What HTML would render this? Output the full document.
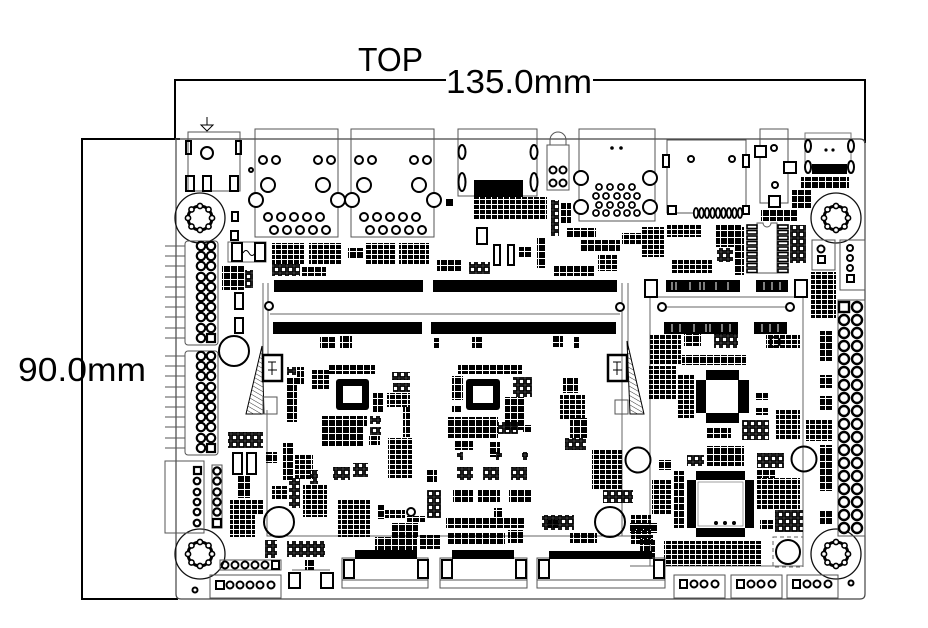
<!DOCTYPE html>
<html><head><meta charset="utf-8"><style>
html,body{margin:0;padding:0;background:#fff;}
svg{display:block;}
text{font-family:"Liberation Sans",sans-serif;fill:#000;}
</style></head><body>
<svg width="928" height="628" viewBox="0 0 928 628" xmlns="http://www.w3.org/2000/svg" xmlns:xlink="http://www.w3.org/1999/xlink">
<defs>
 <pattern id="a" width="7" height="7" patternUnits="userSpaceOnUse"><rect width="6" height="6" fill="#000"/></pattern>
 <pattern id="b" width="6" height="5" patternUnits="userSpaceOnUse"><rect width="5" height="4" fill="#000"/></pattern>
 <pattern id="c" width="7" height="7" patternUnits="userSpaceOnUse"><rect x="1" y="1" width="5" height="5" fill="none" stroke="#000" stroke-width="1.8"/></pattern>
 <pattern id="h" width="4" height="4" patternUnits="userSpaceOnUse" patternTransform="rotate(-60)"><line x1="0" y1="0" x2="0" y2="4" stroke="#000" stroke-width="0.8"/></pattern>
 <g id="mh">
  <circle r="25" fill="none" stroke="#111" stroke-width="1.3"/>
  <circle r="12" fill="none" stroke="#000" stroke-width="3"/>
  <g fill="#fff" stroke="#000" stroke-width="1.6">
   <circle cx="12" cy="0" r="2.6"/><circle cx="8.5" cy="8.5" r="2.6"/><circle cx="0" cy="12" r="2.6"/><circle cx="-8.5" cy="8.5" r="2.6"/>
   <circle cx="-12" cy="0" r="2.6"/><circle cx="-8.5" cy="-8.5" r="2.6"/><circle cx="0" cy="-12" r="2.6"/><circle cx="8.5" cy="-8.5" r="2.6"/>
  </g>
 </g>
 <g id="rj">
  <rect x="255" y="129" width="83" height="108" fill="none" stroke="#555" stroke-width="1"/>
  <g fill="#fff" stroke="#000" stroke-width="2">
   <circle cx="263" cy="160" r="4"/><circle cx="276" cy="160" r="4"/><circle cx="318" cy="160" r="4"/><circle cx="331" cy="160" r="4"/>
   <circle cx="268" cy="185" r="7"/><circle cx="323" cy="185" r="7"/>
   <circle cx="256" cy="200" r="7"/><circle cx="338" cy="200" r="7"/>
   <circle cx="268" cy="217" r="4"/><circle cx="281" cy="217" r="4"/><circle cx="294" cy="217" r="4"/><circle cx="307" cy="217" r="4"/><circle cx="320" cy="217" r="4"/>
   <circle cx="274" cy="230" r="4"/><circle cx="287" cy="230" r="4"/><circle cx="300" cy="230" r="4"/><circle cx="313" cy="230" r="4"/><circle cx="326" cy="230" r="4"/>
  </g>
 </g>
 <g id="p4">
  <rect x="0" y="0" width="51" height="23" fill="none" stroke="#555" stroke-width="1"/>
  <g fill="none" stroke="#000" stroke-width="2">
   <rect x="6" y="5" width="7" height="8"/>
   <circle cx="20" cy="9" r="3.5"/><circle cx="30" cy="9" r="3.5"/><circle cx="41" cy="9" r="3.5"/>
  </g>
 </g>
</defs>

<!-- dimension lines and text -->
<path d="M175 139 V80 H446 M593 80 H865 V143" stroke="#000" stroke-width="2" fill="none"/>
<path d="M180 139 H82 V599 H178" stroke="#000" stroke-width="2" fill="none"/>
<text x="358" y="71" font-size="33" textLength="65" lengthAdjust="spacingAndGlyphs">TOP</text>
<text x="446" y="93" font-size="33" textLength="146" lengthAdjust="spacingAndGlyphs">135.0mm</text>
<text x="18" y="381" font-size="33" textLength="128" lengthAdjust="spacingAndGlyphs">90.0mm</text>

<!-- board outline -->
<path d="M175 139 H860 Q865 139 865 144 V594 Q865 599 860 599 H181 Q176 599 176 594 V139" stroke="#444" stroke-width="1.2" fill="none"/>

<!-- power jack -->
<path d="M207 117 V125 M201 125 H213 L207 131 Z" stroke="#000" stroke-width="1" fill="none"/>
<rect x="188" y="132" width="52" height="59" fill="none" stroke="#555" stroke-width="1"/>
<g fill="none" stroke="#000" stroke-width="2">
 <rect x="186" y="141" width="5" height="13"/><rect x="236" y="141" width="5" height="13"/>
 <circle cx="207" cy="153" r="6"/>
 <rect x="186" y="176" width="8" height="15"/><rect x="203" y="176" width="8" height="15"/><rect x="230" y="176" width="8" height="15"/>
 <circle cx="251" cy="170" r="2"/>
</g>

<!-- RJ45 -->
<use xlink:href="#rj" href="#rj"/>
<use xlink:href="#rj" href="#rj" x="96"/>
<rect x="446" y="199" width="7" height="7" fill="#000"/>

<!-- USB box -->
<rect x="458" y="129" width="79" height="67" fill="none" stroke="#555" stroke-width="1"/>
<g fill="#fff" stroke="#000" stroke-width="2">
 <ellipse cx="462" cy="152" rx="3.5" ry="7"/><ellipse cx="462" cy="182" rx="3.5" ry="9"/>
 <ellipse cx="534" cy="152" rx="3.5" ry="7"/><ellipse cx="534" cy="182" rx="3.5" ry="9"/>
</g>
<rect x="474" y="180" width="49" height="17" fill="#000"/>

<!-- audio jack -->
<path d="M550 145 V140 A8 8 0 0 1 566 140 V145" fill="none" stroke="#555" stroke-width="1"/>
<rect x="547" y="145" width="22" height="45" fill="none" stroke="#555" stroke-width="1"/>
<g fill="none" stroke="#000" stroke-width="2">
 <circle cx="553" cy="170" r="3.5"/><circle cx="563" cy="170" r="3.5"/><circle cx="553" cy="183" r="3.5"/><circle cx="563" cy="183" r="3.5"/>
</g>

<!-- VGA -->
<rect x="579" y="129" width="76" height="92" fill="none" stroke="#555" stroke-width="1"/>
<circle cx="612" cy="148" r="1.8" fill="#000"/><circle cx="621" cy="148" r="1.8" fill="#000"/>
<g fill="#fff" stroke="#000" stroke-width="2">
 <circle cx="581" cy="178" r="7"/><circle cx="650" cy="178" r="7"/><circle cx="581" cy="207" r="7"/><circle cx="650" cy="207" r="7"/>
</g>
<g fill="none" stroke="#000" stroke-width="1.8">
 <circle cx="599" cy="187" r="3"/><circle cx="610" cy="187" r="3"/><circle cx="621" cy="187" r="3"/><circle cx="632" cy="187" r="3"/>
 <circle cx="596" cy="196" r="3"/><circle cx="606" cy="196" r="3"/><circle cx="617" cy="196" r="3"/><circle cx="627" cy="196" r="3"/><circle cx="637" cy="196" r="3"/>
 <circle cx="599" cy="205" r="3"/><circle cx="610" cy="205" r="3"/><circle cx="621" cy="205" r="3"/><circle cx="632" cy="205" r="3"/>
 <circle cx="596" cy="213" r="3"/><circle cx="606" cy="213" r="3"/><circle cx="617" cy="213" r="3"/><circle cx="627" cy="213" r="3"/><circle cx="637" cy="213" r="3"/>
</g>

<!-- HDMI -->
<rect x="667" y="140" width="79" height="73" fill="none" stroke="#555" stroke-width="1"/>
<g fill="#fff" stroke="#000" stroke-width="2">
 <rect x="663" y="155" width="6" height="12"/><rect x="743" y="155" width="6" height="12"/>
 <circle cx="691" cy="159" r="3"/><circle cx="732" cy="159" r="3"/>
 <rect x="668" y="206" width="8" height="8"/><rect x="743" y="206" width="6" height="8"/>
</g>
<g fill="#fff" stroke="#000" stroke-width="1.8">
 <ellipse cx="696" cy="213" rx="2.2" ry="5"/><ellipse cx="701.5" cy="213" rx="2.2" ry="5"/><ellipse cx="707" cy="213" rx="2.2" ry="5"/>
 <ellipse cx="712.5" cy="213" rx="2.2" ry="5"/><ellipse cx="718" cy="213" rx="2.2" ry="5"/><ellipse cx="723.5" cy="213" rx="2.2" ry="5"/>
 <ellipse cx="729" cy="213" rx="2.2" ry="5"/><ellipse cx="734.5" cy="213" rx="2.2" ry="5"/><ellipse cx="740" cy="213" rx="2.2" ry="5"/>
</g>

<!-- connector near HDMI -->
<rect x="760" y="129" width="28" height="74" fill="none" stroke="#555" stroke-width="1"/>
<g fill="#fff" stroke="#000" stroke-width="2">
 <rect x="755" y="146" width="11" height="11"/><circle cx="774" cy="148" r="3"/>
 <rect x="784" y="162" width="12" height="11"/><circle cx="775" cy="185" r="3"/>
 <rect x="769" y="196" width="11" height="11"/>
</g>

<!-- USB-C -->
<rect x="805" y="133" width="46" height="35" fill="none" stroke="#777" stroke-width="1"/>
<g fill="#fff" stroke="#000" stroke-width="2">
 <ellipse cx="808" cy="146" rx="3" ry="6"/><ellipse cx="851" cy="146" rx="3" ry="6"/>
 <ellipse cx="808" cy="167" rx="3" ry="6"/><ellipse cx="851" cy="167" rx="3" ry="6"/>
</g>
<circle cx="826" cy="150" r="1.6" fill="#000"/><circle cx="833" cy="150" r="1.6" fill="#000"/>
<rect x="812" y="164" width="35" height="10" fill="#000"/>

<!-- mounting holes -->
<use xlink:href="#mh" href="#mh" x="200" y="218"/>
<use xlink:href="#mh" href="#mh" x="836" y="218"/>
<use xlink:href="#mh" href="#mh" x="200" y="554"/>
<use xlink:href="#mh" href="#mh" x="836" y="554"/>

<!-- small right connectors -->
<rect x="812" y="240" width="23" height="30" fill="none" stroke="#555"/>
<rect x="840" y="240" width="25" height="50" fill="none" stroke="#555"/>
<g fill="none" stroke="#000" stroke-width="2">
 <circle cx="821" cy="249" r="3.5"/><rect x="818" y="256" width="7" height="7"/>
 <circle cx="850" cy="248" r="3"/><circle cx="850" cy="258" r="3"/><circle cx="850" cy="268" r="3"/><rect x="847" y="275" width="7" height="7"/>
</g>

<!-- left headers -->
<g stroke="#555" stroke-width="1" fill="none">
 <rect x="185" y="241" width="33" height="104" rx="3"/>
 <rect x="185" y="351" width="33" height="104" rx="3"/>
 <path d="M165 246 H185 M165 256 H185 M165 266 H185 M165 277 H185 M165 287 H185 M165 297 H185 M165 307 H185 M165 317 H185 M165 328 H185 M165 338 H185"/>
 <path d="M165 356 H185 M165 366 H185 M165 376 H185 M165 387 H185 M165 397 H185 M165 407 H185 M165 417 H185 M165 427 H185 M165 438 H185 M165 448 H185"/>
 <rect x="165" y="461" width="39" height="72"/>
 <rect x="212" y="465" width="10" height="63"/>
</g>
<g fill="#fff" stroke="#000" stroke-width="2.2">
 <circle cx="201" cy="246" r="4.2"/><circle cx="211" cy="246" r="4.2"/>
 <circle cx="201" cy="256" r="4.2"/><circle cx="211" cy="256" r="4.2"/>
 <circle cx="201" cy="266" r="4.2"/><circle cx="211" cy="266" r="4.2"/>
 <circle cx="201" cy="277" r="4.2"/><circle cx="211" cy="277" r="4.2"/>
 <circle cx="201" cy="287" r="4.2"/><circle cx="211" cy="287" r="4.2"/>
 <circle cx="201" cy="297" r="4.2"/><circle cx="211" cy="297" r="4.2"/>
 <circle cx="201" cy="307" r="4.2"/><circle cx="211" cy="307" r="4.2"/>
 <circle cx="201" cy="317" r="4.2"/><circle cx="211" cy="317" r="4.2"/>
 <circle cx="201" cy="328" r="4.2"/><circle cx="211" cy="328" r="4.2"/>
 <circle cx="201" cy="338" r="4.2"/><rect x="207" y="334" width="8" height="8"/>
 <circle cx="201" cy="356" r="4.2"/><circle cx="211" cy="356" r="4.2"/>
 <circle cx="201" cy="366" r="4.2"/><circle cx="211" cy="366" r="4.2"/>
 <circle cx="201" cy="376" r="4.2"/><circle cx="211" cy="376" r="4.2"/>
 <circle cx="201" cy="387" r="4.2"/><circle cx="211" cy="387" r="4.2"/>
 <circle cx="201" cy="397" r="4.2"/><circle cx="211" cy="397" r="4.2"/>
 <circle cx="201" cy="407" r="4.2"/><circle cx="211" cy="407" r="4.2"/>
 <circle cx="201" cy="417" r="4.2"/><circle cx="211" cy="417" r="4.2"/>
 <circle cx="201" cy="427" r="4.2"/><circle cx="211" cy="427" r="4.2"/>
 <circle cx="201" cy="438" r="4.2"/><circle cx="211" cy="438" r="4.2"/>
 <circle cx="201" cy="448" r="4.2"/><rect x="207" y="444" width="8" height="8"/>
 <rect x="194" y="467" width="7" height="7"/><circle cx="197" cy="481" r="3.3"/><circle cx="197" cy="492" r="3.3"/><circle cx="197" cy="502" r="3.3"/><circle cx="197" cy="512" r="3.3"/><circle cx="197" cy="523" r="3.3"/>
 <circle cx="217" cy="471" r="3.6"/><circle cx="217" cy="481" r="3.6"/><circle cx="217" cy="492" r="3.6"/><circle cx="217" cy="502" r="3.6"/><circle cx="217" cy="512" r="3.6"/><rect x="213" y="519" width="8" height="8"/>
</g>

<!-- right header -->
<rect x="838" y="300" width="27" height="236" fill="none" stroke="#555"/>
<g fill="#fff" stroke="#000" stroke-width="2.4">
 <rect x="839" y="302" width="10" height="10"/><circle cx="857" cy="307" r="5"/>
 <circle cx="844" cy="320" r="5"/><circle cx="857" cy="320" r="5"/>
 <circle cx="844" cy="333" r="5"/><circle cx="857" cy="333" r="5"/>
 <circle cx="844" cy="346" r="5"/><circle cx="857" cy="346" r="5"/>
 <circle cx="844" cy="359" r="5"/><circle cx="857" cy="359" r="5"/>
 <circle cx="844" cy="372" r="5"/><circle cx="857" cy="372" r="5"/>
 <circle cx="844" cy="385" r="5"/><circle cx="857" cy="385" r="5"/>
 <circle cx="844" cy="398" r="5"/><circle cx="857" cy="398" r="5"/>
 <circle cx="844" cy="411" r="5"/><circle cx="857" cy="411" r="5"/>
 <circle cx="844" cy="424" r="5"/><circle cx="857" cy="424" r="5"/>
 <circle cx="844" cy="437" r="5"/><circle cx="857" cy="437" r="5"/>
 <circle cx="844" cy="450" r="5"/><circle cx="857" cy="450" r="5"/>
 <circle cx="844" cy="463" r="5"/><circle cx="857" cy="463" r="5"/>
 <circle cx="844" cy="476" r="5"/><circle cx="857" cy="476" r="5"/>
 <circle cx="844" cy="489" r="5"/><circle cx="857" cy="489" r="5"/>
 <circle cx="844" cy="502" r="5"/><circle cx="857" cy="502" r="5"/>
 <circle cx="844" cy="515" r="5"/><circle cx="857" cy="515" r="5"/>
 <circle cx="844" cy="528" r="5"/><circle cx="857" cy="528" r="5"/>
</g>

<!-- thin board lines -->
<g stroke="#666" stroke-width="1" fill="none">
 <path d="M263 283 V355 M268 283 V355 M267 410 V536 H650"/>
 <path d="M622 283 V536 M628 283 V350"/>
 <path d="M270 314 H620"/>
 <path d="M650 297 V566 M803 297 V566 M650 297 H803 M630 566 H803"/>
 <path d="M657 307 H795"/>
 <path d="M228 242 H266 V262 H228 Z"/>
 <path d="M292 570 H330"/>
</g>

<!-- SODIMM bars -->
<g fill="#000">
 <rect x="274" y="280" width="149" height="12"/><rect x="433" y="280" width="184" height="12"/>
 <rect x="273" y="322" width="149" height="12"/><rect x="431" y="322" width="185" height="12"/>
</g>
<g fill="#fff" stroke="#000" stroke-width="2">
 <circle cx="269" cy="306" r="4"/><circle cx="620" cy="307" r="4"/>
 <circle cx="662" cy="307" r="4"/><circle cx="790" cy="307" r="4"/>
</g>

<!-- latches -->
<polygon points="246,414 262,346 264,414" fill="url(#h)" stroke="#000" stroke-width="1"/>
<polygon points="627,341 644,414 630,414" fill="url(#h)" stroke="#000" stroke-width="1"/>
<g fill="none" stroke="#000">
 <rect x="263" y="355" width="19" height="26" stroke-width="2.5"/>
 <rect x="608" y="355" width="19" height="26" stroke-width="2.5"/>
 <path d="M268 362 H276 M272 362 V375 M268 370 H277 M613 362 H621 M617 362 V375 M613 370 H622" stroke-width="1"/>
 <rect x="263" y="397" width="14" height="17" stroke-width="1" stroke="#555"/>
 <rect x="615" y="400" width="13" height="14" stroke-width="1" stroke="#555"/>
</g>

<!-- mini PCIe -->
<g fill="#fff" stroke="#000" stroke-width="2">
 <rect x="645" y="280" width="12" height="17"/><rect x="795" y="280" width="12" height="17"/>
</g>
<g fill="#000">
 <rect x="666" y="280" width="74" height="12"/><rect x="756" y="280" width="32" height="12"/>
 <rect x="664" y="322" width="74" height="12"/><rect x="754" y="322" width="33" height="12"/>
</g>
<path d="M672 282 V290 M676 282 V290 M690 282 V290 M700 282 V290 M704 282 V290 M716 282 V290 M728 282 V290 M764 282 V290 M772 282 V290 M780 282 V290 M672 324 V332 M680 324 V332 M694 324 V332 M706 324 V332 M710 324 V332 M722 324 V332 M730 324 V332 M762 324 V332 M770 324 V332 M778 324 V332" stroke="#fff" stroke-width="1"/>

<!-- IC with outlined pads (upper right) -->
<path d="M757 223 H763 A4 4 0 0 0 771 223 H777 V273 H757 Z" fill="none" stroke="#555" stroke-width="1"/>
<g fill="#fff" stroke="#000" stroke-width="1.6">
 <rect x="747" y="225" width="10" height="3.5"/><rect x="747" y="230.5" width="10" height="3.5"/><rect x="747" y="236" width="10" height="3.5"/>
 <rect x="747" y="241.5" width="10" height="3.5"/><rect x="747" y="247" width="10" height="3.5"/><rect x="747" y="252.5" width="10" height="3.5"/>
 <rect x="747" y="258" width="10" height="3.5"/><rect x="747" y="263.5" width="10" height="3.5"/><rect x="747" y="269" width="10" height="3.5"/>
 <rect x="778" y="225" width="10" height="3.5"/><rect x="778" y="230.5" width="10" height="3.5"/><rect x="778" y="236" width="10" height="3.5"/>
 <rect x="778" y="241.5" width="10" height="3.5"/><rect x="778" y="247" width="10" height="3.5"/><rect x="778" y="252.5" width="10" height="3.5"/>
 <rect x="778" y="258" width="10" height="3.5"/><rect x="778" y="263.5" width="10" height="3.5"/><rect x="778" y="269" width="10" height="3.5"/>
</g>

<!-- misc outlined parts -->
<g fill="none" stroke="#000" stroke-width="2">
 <rect x="232" y="243" width="10" height="18"/><rect x="255" y="243" width="10" height="18"/>
 <rect x="232" y="212" width="6" height="9"/><rect x="231" y="231" width="7" height="9"/>
 <rect x="235" y="293" width="8" height="16"/><rect x="235" y="318" width="8" height="15"/>
 <rect x="233" y="453" width="9" height="21"/><rect x="247" y="453" width="9" height="21"/>
 <rect x="477" y="228" width="10" height="16"/>
 <rect x="494" y="245" width="6" height="20"/><rect x="508" y="245" width="6" height="20"/>
 <rect x="289" y="573" width="11" height="15"/><rect x="321" y="573" width="12" height="15"/>
 <circle cx="411" cy="512" r="4"/>
 <circle cx="234" cy="351" r="15"/><circle cx="279" cy="522" r="15"/><circle cx="610" cy="522" r="15"/>
 <circle cx="638" cy="460" r="12.5"/><circle cx="804" cy="459" r="12.5"/><circle cx="788" cy="552" r="12"/>
 <circle cx="775" cy="342" r="5"/>
 <circle cx="195" cy="590" r="2.5"/><circle cx="851" cy="583" r="2.5"/>
</g>
<path d="M243 253 q3 -5 6 0 t6 0" fill="none" stroke="#000" stroke-width="1"/>
<rect x="773" y="537" width="30" height="30" fill="none" stroke="#666" stroke-width="1" stroke-dasharray="4,3"/>

<!-- chips -->
<rect x="336" y="379" width="33" height="31" rx="3" fill="#000"/><rect x="343" y="386" width="19" height="17" fill="#fff"/>
<rect x="466" y="379" width="34" height="31" rx="3" fill="#000"/><rect x="473" y="386" width="20" height="17" fill="#fff"/>
<rect x="696" y="370" width="53" height="53" fill="#000"/>
<g fill="#fff">
 <rect x="696" y="370" width="10" height="10"/><rect x="739" y="370" width="10" height="10"/><rect x="696" y="413" width="10" height="10"/><rect x="739" y="413" width="10" height="10"/>
 <rect x="706" y="380" width="32" height="33"/>
</g>
<rect x="687" y="471" width="67" height="66" rx="3" fill="#000"/>
<g fill="#fff">
 <rect x="687" y="471" width="9" height="9"/><rect x="745" y="471" width="9" height="9"/><rect x="687" y="528" width="9" height="9"/><rect x="745" y="528" width="9" height="9"/>
 <rect x="696" y="480" width="49" height="48"/>
</g>
<rect x="698" y="482" width="45" height="44" fill="none" stroke="#888" stroke-width="0.8"/>
<circle cx="716" cy="523" r="2" fill="#000"/><circle cx="725" cy="523" r="2" fill="#000"/><circle cx="734" cy="523" r="2" fill="#000"/>

<!-- clusters medium -->
<g fill="url(#b)">
 <rect x="272" y="243" width="32" height="21"/><rect x="309" y="243" width="32" height="21"/>
 <rect x="365" y="243" width="30" height="21"/><rect x="399" y="243" width="30" height="21"/>
 <rect x="622" y="233" width="20" height="12"/><rect x="598" y="255" width="20" height="16"/>
 <rect x="474" y="197" width="73" height="22"/>
 <rect x="641" y="227" width="23" height="30"/><rect x="667" y="225" width="34" height="12"/><rect x="672" y="260" width="40" height="13"/>
 <rect x="811" y="272" width="25" height="46"/>
 <rect x="312" y="370" width="18" height="20"/><rect x="387" y="393" width="23" height="14"/>
 <rect x="388" y="438" width="24" height="40"/><rect x="295" y="455" width="18" height="25"/>
 <rect x="303" y="484" width="24" height="33"/><rect x="338" y="500" width="32" height="37"/>
 <rect x="385" y="510" width="20" height="8"/>
 <rect x="230" y="500" width="33" height="14"/><rect x="230" y="515" width="25" height="22"/>
 <rect x="272" y="486" width="15" height="14"/>
 <rect x="560" y="395" width="25" height="25"/><rect x="592" y="450" width="30" height="40"/>
 <rect x="650" y="335" width="31" height="30"/><rect x="766" y="334" width="34" height="14"/>
 <rect x="649" y="366" width="27" height="34"/><rect x="677" y="375" width="17" height="43"/>
 <rect x="776" y="410" width="24" height="30"/><rect x="806" y="420" width="26" height="21"/>
 <rect x="757" y="478" width="43" height="32"/><rect x="760" y="520" width="13" height="10"/>
 <rect x="664" y="541" width="97" height="25"/><rect x="631" y="515" width="20" height="30"/>
 <rect x="652" y="480" width="20" height="35"/>
</g>
<!-- clusters dense -->
<g fill="url(#a)">
 <rect x="348" y="248" width="16" height="10"/><rect x="302" y="267" width="24" height="9"/><rect x="222" y="266" width="22" height="24"/>
 <rect x="437" y="260" width="25" height="11"/><rect x="519" y="247" width="12" height="10"/><rect x="537" y="238" width="9" height="30"/>
 <rect x="554" y="266" width="40" height="10"/><rect x="580" y="240" width="40" height="12"/>
 <rect x="561" y="203" width="10" height="20"/><rect x="566" y="228" width="30" height="10"/>
 <rect x="716" y="225" width="26" height="22"/><rect x="734" y="227" width="10" height="48"/>
 <rect x="761" y="209" width="36" height="12"/><rect x="792" y="190" width="20" height="18"/><rect x="801" y="177" width="48" height="11"/>
 <rect x="320" y="337" width="15" height="11"/><rect x="340" y="336" width="12" height="12"/><rect x="433" y="338" width="6" height="10"/>
 <rect x="472" y="337" width="10" height="11"/><rect x="553" y="336" width="10" height="11"/><rect x="574" y="337" width="5" height="11"/>
 <rect x="328" y="365" width="47" height="9"/><rect x="297" y="367" width="7" height="18"/><rect x="287" y="377" width="10" height="45"/>
 <rect x="373" y="393" width="10" height="20"/><rect x="403" y="407" width="7" height="30"/>
 <rect x="321" y="416" width="46" height="10"/><rect x="321" y="427" width="43" height="19"/><rect x="369" y="436" width="11" height="9"/>
 <rect x="283" y="443" width="11" height="37"/><rect x="378" y="505" width="7" height="14"/>
 <rect x="392" y="523" width="26" height="14"/><rect x="407" y="516" width="18" height="6"/><rect x="427" y="470" width="10" height="13"/>
 <rect x="375" y="537" width="42" height="13"/><rect x="420" y="535" width="20" height="14"/><rect x="305" y="560" width="10" height="10"/>
 <rect x="238" y="475" width="12" height="23"/><rect x="265" y="452" width="12" height="11"/>
 <rect x="458" y="365" width="64" height="9"/><rect x="452" y="376" width="11" height="24"/><rect x="452" y="406" width="10" height="6"/>
 <rect x="505" y="397" width="20" height="33"/><rect x="447" y="417" width="51" height="21"/><rect x="523" y="425" width="8" height="7"/>
 <rect x="455" y="440" width="18" height="10"/><rect x="490" y="442" width="10" height="15"/>
 <rect x="453" y="490" width="20" height="12"/><rect x="478" y="490" width="22" height="12"/><rect x="509" y="490" width="22" height="12"/>
 <rect x="494" y="508" width="8" height="10"/><rect x="446" y="518" width="78" height="10"/><rect x="447" y="533" width="58" height="11"/><rect x="508" y="530" width="15" height="13"/>
 <rect x="563" y="378" width="15" height="15"/><rect x="570" y="418" width="17" height="20"/>
 <rect x="570" y="533" width="27" height="10"/><rect x="630" y="523" width="28" height="10"/><rect x="640" y="535" width="13" height="10"/><rect x="548" y="520" width="10" height="8"/>
 <rect x="684" y="334" width="17" height="12"/><rect x="682" y="355" width="64" height="10"/>
 <rect x="755" y="393" width="13" height="7"/><rect x="755" y="408" width="13" height="7"/><rect x="706" y="428" width="25" height="10"/>
 <rect x="820" y="331" width="12" height="30"/><rect x="820" y="375" width="12" height="13"/><rect x="820" y="396" width="12" height="14"/>
 <rect x="820" y="445" width="12" height="46"/><rect x="820" y="510" width="12" height="15"/>
 <rect x="659" y="460" width="13" height="10"/><rect x="674" y="471" width="10" height="57"/><rect x="707" y="446" width="37" height="20"/>
 <rect x="757" y="470" width="18" height="8"/><rect x="640" y="540" width="15" height="20"/>
</g>
<!-- clusters outlined -->
<g fill="url(#c)">
 <rect x="272" y="264" width="28" height="12"/><rect x="245" y="270" width="8" height="18"/>
 <rect x="469" y="262" width="21" height="12"/><rect x="551" y="200" width="8" height="36"/>
 <rect x="717" y="248" width="16" height="14"/><rect x="790" y="225" width="16" height="38"/>
 <rect x="287" y="367" width="9" height="8"/><rect x="392" y="372" width="18" height="8"/><rect x="393" y="383" width="17" height="9"/>
 <rect x="370" y="416" width="11" height="8"/><rect x="370" y="427" width="11" height="8"/>
 <rect x="310" y="470" width="8" height="14"/><rect x="333" y="467" width="17" height="13"/><rect x="353" y="463" width="15" height="14"/>
 <rect x="427" y="490" width="14" height="28"/><rect x="287" y="541" width="38" height="16"/>
 <rect x="228" y="432" width="35" height="16"/><rect x="265" y="540" width="12" height="18"/><rect x="289" y="478" width="11" height="30"/>
 <rect x="513" y="377" width="19" height="20"/><rect x="498" y="422" width="20" height="12"/>
 <rect x="457" y="452" width="6" height="8"/><rect x="496" y="452" width="6" height="8"/><rect x="522" y="452" width="6" height="8"/>
 <rect x="457" y="467" width="16" height="13"/><rect x="483" y="467" width="16" height="13"/><rect x="511" y="467" width="16" height="13"/>
 <rect x="565" y="438" width="21" height="12"/><rect x="603" y="490" width="30" height="13"/><rect x="542" y="515" width="32" height="15"/>
 <rect x="714" y="334" width="24" height="14"/><rect x="742" y="420" width="27" height="20"/>
 <rect x="687" y="455" width="17" height="11"/><rect x="757" y="453" width="27" height="15"/><rect x="775" y="510" width="28" height="22"/>
</g>

<!-- bottom FPC connectors -->
<g fill="none" stroke="#555" stroke-width="1">
 <rect x="342" y="558" width="86" height="30"/><path d="M342 580 H428"/>
 <rect x="440" y="558" width="87" height="30"/><path d="M440 580 H527"/>
 <rect x="537" y="558" width="128" height="30"/><path d="M537 580 H665"/>
</g>
<g fill="#000">
 <rect x="355" y="550" width="62" height="9"/><rect x="452" y="550" width="62" height="9"/><rect x="549" y="551" width="103" height="8"/>
</g>
<g fill="#fff" stroke="#000" stroke-width="2">
 <rect x="344" y="560" width="10" height="18"/><rect x="418" y="560" width="10" height="18"/>
 <rect x="442" y="560" width="10" height="18"/><rect x="516" y="560" width="10" height="18"/>
 <rect x="539" y="560" width="10" height="18"/><rect x="654" y="560" width="10" height="18"/>
</g>

<!-- bottom left connectors -->
<rect x="210" y="575" width="71" height="23" fill="none" stroke="#555"/>
<rect x="220" y="560" width="61" height="10" fill="none" stroke="#555"/>
<g fill="none" stroke="#000" stroke-width="2">
 <rect x="216" y="581" width="8" height="8"/><circle cx="230" cy="585" r="3.5"/><circle cx="240" cy="585" r="3.5"/><circle cx="250" cy="585" r="3.5"/><circle cx="260" cy="585" r="3.5"/><circle cx="271" cy="585" r="3.5"/>
 <circle cx="225" cy="565" r="3.5"/><circle cx="235" cy="565" r="3.5"/><circle cx="245" cy="565" r="3.5"/><circle cx="255" cy="565" r="3.5"/><circle cx="265" cy="565" r="3.5"/><rect x="272" y="561" width="7" height="8"/>
</g>

<!-- bottom right 4-pin connectors -->
<use xlink:href="#p4" href="#p4" x="674" y="575"/>
<use xlink:href="#p4" href="#p4" x="731" y="575"/>
<use xlink:href="#p4" href="#p4" x="787" y="575"/>
</svg>
</body></html>
